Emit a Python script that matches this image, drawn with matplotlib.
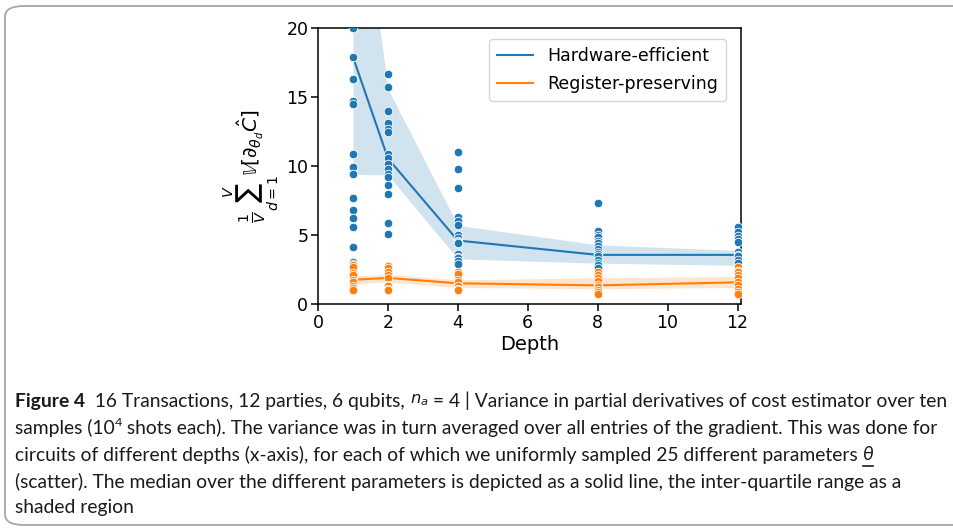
import matplotlib
matplotlib.use("Agg")
import matplotlib.pyplot as plt
from matplotlib.patches import FancyBboxPatch
from matplotlib.lines import Line2D
import numpy as np

# depths on the x axis
depths = [1, 2, 4, 8, 12]

# scatter values (points above 20 are clipped anyway)
hw_points = {
    1: [20.0, 17.9, 16.3, 14.7, 14.5, 10.9, 9.95, 9.4, 7.7, 6.8, 6.2, 5.6, 4.1, 3.05, 2.9],
    2: [16.7, 15.7, 14.0, 13.1, 12.7, 12.5, 10.85, 10.55, 10.15, 9.8, 9.4, 9.2, 8.6, 8.0, 5.9, 5.1],
    4: [11.0, 9.8, 8.4, 6.3, 6.0, 5.7, 5.0, 4.8, 4.6, 4.5, 4.4, 3.6, 3.4, 3.3, 3.1, 2.9],
    8: [7.35, 5.3, 5.0, 4.85, 4.6, 4.4, 4.2, 4.0, 3.8, 3.6, 3.5, 3.2, 3.0, 2.8, 2.6],
    12: [5.6, 5.25, 4.9, 4.7, 4.5, 3.8, 3.55, 3.5, 3.2, 3.0],
}
rp_points = {
    1: [2.8, 2.7, 2.25, 2.1, 1.75, 1.6, 1.3, 1.15, 1.05],
    2: [2.75, 2.6, 2.3, 2.1, 1.9, 1.4, 1.3, 1.1, 1.0],
    4: [2.3, 2.2, 1.75, 1.6, 1.3, 1.1, 1.0],
    8: [2.3, 2.1, 1.85, 1.7, 1.4, 1.2, 1.0, 0.85, 0.75],
    12: [2.65, 2.4, 2.3, 2.1, 1.85, 1.6, 1.35, 1.1, 0.9, 0.75],
}

# median and inter-quartile range
hw_median = [17.9, 10.55, 4.6, 3.56, 3.56]
hw_q25 = [9.4, 9.35, 3.27, 2.96, 2.8]
hw_q75 = [34.7, 15.6, 5.7, 4.29, 3.88]
rp_median = [1.75, 1.89, 1.5, 1.35, 1.57]
rp_q25 = [1.45, 1.6, 1.2, 1.1, 1.2]
rp_q75 = [2.0, 2.15, 1.75, 1.9, 2.0]

labels = ["Hardware-efficient", "Register-preserving"]
blue = "#1f77b4"
orange = "#ff7f0e"

fig = plt.figure(figsize=(9.54, 5.31), dpi=100)

# rounded frame around figure + caption
frame = FancyBboxPatch((5 / 954, 6 / 531), 1.2, 1 - 12 / 531,
                       boxstyle="round,pad=0,rounding_size=0.02",
                       transform=fig.transFigure, facecolor="none",
                       edgecolor="#a6a6a6", linewidth=1.3, clip_on=False)
fig.patches.append(frame)

ax = fig.add_axes([318 / 954, 1 - 304 / 531, 423 / 954, 276 / 531])

ax.fill_between(depths, hw_q25, hw_q75, color=blue, alpha=0.2, linewidth=0)
ax.fill_between(depths, rp_q25, rp_q75, color=orange, alpha=0.2, linewidth=0)
ax.plot(depths, hw_median, color=blue, lw=1.5, label=labels[0], zorder=3)
ax.plot(depths, rp_median, color=orange, lw=1.5, label=labels[1], zorder=3)

for d in depths:
    ax.scatter([d] * len(hw_points[d]), hw_points[d], s=38, color=blue,
               edgecolor="white", linewidth=0.6, zorder=4)
for d in depths:
    ax.scatter([d] * len(rp_points[d]), rp_points[d], s=38, color=orange,
               edgecolor="white", linewidth=0.6, zorder=4)

ax.set_xlim(0, 12.1)
ax.set_ylim(0, 20)
ax.set_xticks([0, 2, 4, 6, 8, 10, 12])
ax.set_yticks([0, 5, 10, 15, 20])
ax.tick_params(labelsize=12.5, length=5, width=1.1, pad=2)
for sp in ax.spines.values():
    sp.set_linewidth(1.1)
ax.set_xlabel("Depth", fontsize=14, labelpad=2)
ax.set_ylabel(r"$\frac{1}{V}\sum_{d=1}^{V}\mathbb{V}[\partial_{\theta_d}\hat{C}]$",
              fontsize=14.5, labelpad=4)
ax.legend(loc="upper right", fontsize=12.5, borderpad=0.45, labelspacing=0.55,
          handlelength=2.1, bbox_to_anchor=(0.985, 0.99))

# caption, placed piece by piece
cap_font = "Lato"
renderer = fig.canvas.get_renderer()


def put_line(x0, y, pieces, size):
    x = x0
    out = []
    for s, kw in pieces:
        kw = dict(kw)
        dy = kw.pop("dy", 0)
        fs = size * kw.pop("scale", 1.0)
        t = fig.text(x / 954, 1 - (y - dy) / 531, s, fontsize=fs,
                     family=kw.pop("family", [cap_font, "DejaVu Sans"]),
                     va="center", ha="left", color="#1a1a1a", **kw)
        w = t.get_window_extent(renderer).width
        out.append((t, x, w))
        x += w
    return out


line1 = [("Figure 4", {"weight": "bold"}),
         ("  16 Transactions, 12 parties, 6 qubits, ", {}),
         (r"$n_a$", {"family": "DejaVu Sans", "scale": 0.85, "dy": 1}),
         (" = 4 | Variance in partial derivatives of cost estimator over ten", {})]
line2 = [("samples (10", {}), ("4", {"scale": 0.65, "dy": 5}),
         (" shots each). The variance was in turn averaged over all entries of the gradient. This was done for", {})]
line3 = [("circuits of different depths (x-axis), for each of which we uniformly sampled 25 different parameters ", {}),
         ("θ", {"style": "italic"})]
line4 = [("(scatter). The median over the different parameters is depicted as a solid line, the inter-quartile range as a", {})]
line5 = [("shaded region", {})]

# fit the font size so that the first line spans the same width as in the picture
probe = put_line(15, 401, line1, 10)
width = probe[-1][1] + probe[-1][2] - 15
for t, _, _ in probe:
    t.remove()
size = 10 * 935 / width

put_line(15, 401, line1, size)
put_line(15, 428, line2, size)
l3 = put_line(15, 455, line3, size)
put_line(15, 481.5, line4, size)
put_line(15, 508, line5, size)

# underline under theta
_, tx, tw = l3[-1]
fig.add_artist(Line2D([tx / 954, (tx + tw) / 954], [1 - 466 / 531, 1 - 466 / 531],
                      transform=fig.transFigure, color="#1a1a1a", lw=1.2))

fig.savefig("out.png", dpi=100)
